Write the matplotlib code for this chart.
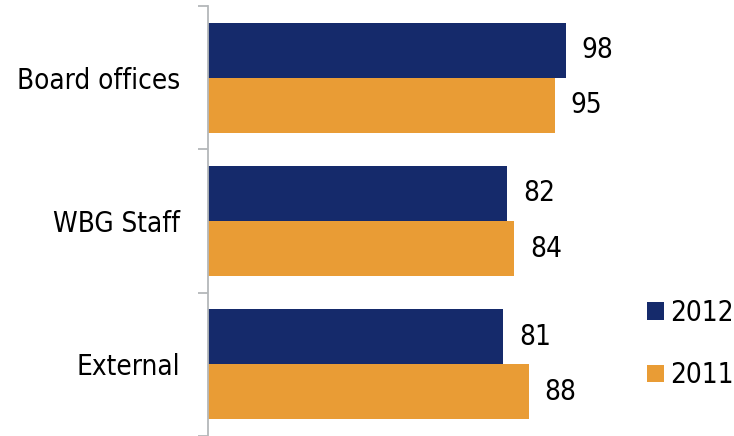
import matplotlib

matplotlib.use("Agg")
import matplotlib.pyplot as plt
import numpy as np

categories = ["Board offices", "WBG Staff", "External"]
years = ["2012", "2011"]
values_2012 = [98, 82, 81]
values_2011 = [95, 84, 88]

NAVY = "#152a6b"
ORANGE = "#e99c35"
FS = 20

plt.rcParams["font.family"] = "DejaVu Sans"
plt.rcParams["font.stretch"] = "condensed"

fig = plt.figure(figsize=(7.34, 4.36), dpi=100)
# axes placed in pixel terms: left edge 208px, top 6px, bottom at figure bottom
ax = fig.add_axes([208 / 734, 0, (600 - 208) / 734, 430 / 436])

y = np.arange(len(categories))
h = 0.384
b1 = ax.barh(y - h / 2, values_2012, height=h, color=NAVY, label=years[0])
b2 = ax.barh(y + h / 2, values_2011, height=h, color=ORANGE, label=years[1])

for bars, vals in ((b1, values_2012), (b2, values_2011)):
    for bar, v in zip(bars, vals):
        ax.text(v + 4.3, bar.get_y() + bar.get_height() / 2, str(v),
                va="center", ha="left", fontsize=FS)

ax.set_xlim(0, (600 - 208) / 3.648)
ax.set_ylim(len(categories) - 0.5, -0.5)

ax.set_yticks(y)
ax.set_yticklabels(categories, fontsize=FS)
ax.tick_params(axis="y", which="major", length=0, pad=20)
ax.set_yticks(np.arange(-0.5, len(categories) + 0.5), minor=True)
ax.tick_params(axis="y", which="minor", length=7, width=1.3, color="#b4b8ba")
ax.set_xticks([])

for side in ("top", "right", "bottom"):
    ax.spines[side].set_visible(False)
ax.spines["left"].set_color("#b4b8ba")
ax.spines["left"].set_linewidth(1.3)

fig.legend(loc="center left", bbox_to_anchor=(647 / 734, 1 - 344 / 436),
           frameon=False, fontsize=FS, borderpad=0, borderaxespad=0,
           handlelength=0.6, handleheight=0.6, handletextpad=0.25,
           labelspacing=1.25)

fig.savefig("out.png", dpi=100)
